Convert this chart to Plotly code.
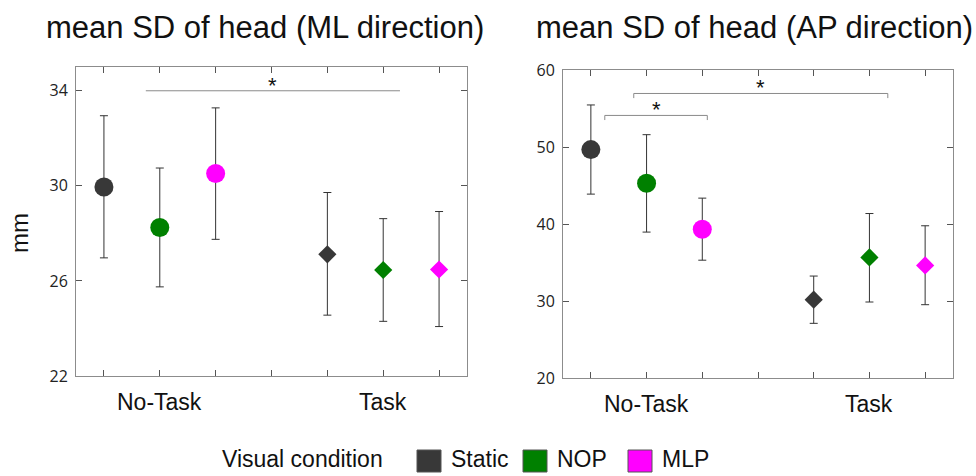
import plotly.graph_objects as go

# ---------------- data ----------------
conditions = ["Static", "NOP", "MLP"]
colors = ["#383838", "#008000", "#ff00ff"]
tasks = ["No-Task", "Task"]
x_pos_notask = [1, 2, 3]
x_pos_task = [5, 6, 7]

# ML direction (left panel)
ml_mean_notask = [29.95, 28.25, 30.52]
ml_hi_notask = [32.95, 30.75, 33.28]
ml_lo_notask = [26.97, 25.75, 27.75]
ml_mean_task = [27.12, 26.46, 26.48]
ml_hi_task = [29.72, 28.62, 28.92]
ml_lo_task = [24.56, 24.30, 24.08]

# AP direction (right panel)
ap_mean_notask = [49.66, 45.30, 39.33]
ap_hi_notask = [55.46, 51.60, 43.36]
ap_lo_notask = [43.88, 38.95, 35.30]
ap_mean_task = [30.17, 35.66, 34.62]
ap_hi_task = [33.24, 41.36, 39.77]
ap_lo_task = [27.10, 29.87, 29.52]

ml_yticks = [22, 26, 30, 34]
ap_yticks = [20, 30, 40, 50, 60]
ml_range = [22, 35]
ap_range = [20, 60]

# significance brackets: (x0, x1, y)
ml_sig = [(1.75, 6.3, 34.0)]
ap_sig = [(1.25, 3.09, 54.1), (1.77, 6.33, 56.95)]

FRAME = "#8c8c8c"
ERR = "#333333"

fig = go.Figure()


def add_panel(xa, ya, mean_nt, hi_nt, lo_nt, mean_t, hi_t, lo_t):
    for i, c in enumerate(conditions):
        for xs, m, hi, lo, sym, sz in [
            (x_pos_notask, mean_nt, hi_nt, lo_nt, "circle", 19),
            (x_pos_task, mean_t, hi_t, lo_t, "diamond", 14),
        ]:
            fig.add_trace(go.Scatter(
                x=[xs[i]], y=[m[i]], mode="markers", xaxis=xa, yaxis=ya,
                marker=dict(symbol=sym, size=sz, color=colors[i], line=dict(width=0)),
                error_y=dict(type="data", symmetric=False,
                             array=[hi[i] - m[i]], arrayminus=[m[i] - lo[i]],
                             color=ERR, thickness=1, width=4),
                showlegend=False, hoverinfo="skip",
            ))


add_panel("x", "y", ml_mean_notask, ml_hi_notask, ml_lo_notask,
          ml_mean_task, ml_hi_task, ml_lo_task)
add_panel("x2", "y2", ap_mean_notask, ap_hi_notask, ap_lo_notask,
          ap_mean_task, ap_hi_task, ap_lo_task)

tickfont = dict(family="Open Sans, Noto Sans, sans-serif", size=16, color="#222")
xcommon = dict(range=[0.5, 7.5], tickvals=[1, 2, 3, 4, 5, 6, 7], showticklabels=False,
               ticks="inside", ticklen=6, tickcolor="#555", tickwidth=1,
               showline=True, linecolor=FRAME, linewidth=1, mirror="ticks",
               showgrid=False, zeroline=False, fixedrange=True, automargin=False)
ycommon = dict(ticks="inside", ticklen=6, tickcolor="#555", tickwidth=1,
               showline=True, linecolor=FRAME, linewidth=1, mirror="ticks",
               showgrid=False, zeroline=False, tickfont=tickfont, ticklabelstandoff=4,
               automargin=False)

fig.update_layout(
    width=976, height=476,
    margin=dict(l=0, r=0, t=0, b=0, autoexpand=False),
    paper_bgcolor="white", plot_bgcolor="white",
    xaxis=dict(domain=[76 / 976, 467 / 976], anchor="y", **xcommon),
    yaxis=dict(domain=[1 - 376 / 476, 1 - 67 / 476], anchor="x", range=ml_range,
               tickvals=ml_yticks, **ycommon),
    xaxis2=dict(domain=[563 / 976, 953 / 976], anchor="y2", **xcommon),
    yaxis2=dict(domain=[1 - 378 / 476, 1 - 70 / 476], anchor="x2", range=ap_range,
                tickvals=ap_yticks, **ycommon),
    showlegend=False,
)

ann = []
shapes = []

# titles
title_font = dict(family="Liberation Sans, Arial, sans-serif", size=31, color="#111")
ann.append(dict(text="mean SD of head (ML direction)", x=265 / 976, y=1 - 27 / 476,
                xref="paper", yref="paper", showarrow=False, font=title_font,
                xanchor="center", yanchor="middle"))
ann.append(dict(text="mean SD of head (AP direction)", x=754 / 976, y=1 - 27 / 476,
                xref="paper", yref="paper", showarrow=False, font=title_font,
                xanchor="center", yanchor="middle"))

# y label
ann.append(dict(text="mm", x=19 / 976, y=1 - 233 / 476, xref="paper", yref="paper",
                showarrow=False, textangle=-90,
                font=dict(family="Liberation Sans, Arial, sans-serif", size=24, color="#111"),
                xanchor="center", yanchor="middle"))

# category labels
cat_font = dict(family="Liberation Sans, Arial, sans-serif", size=23, color="#111")
for xa, ypix in [("x", 402), ("x2", 404)]:
    for label, xv in zip(tasks, [2, 6]):
        ann.append(dict(text=label, x=xv, xref=xa, y=1 - ypix / 476, yref="paper",
                        showarrow=False, font=cat_font, xanchor="center", yanchor="middle"))

# significance brackets
star_font = dict(family="Liberation Sans, Arial, sans-serif", size=22, color="#111")
for xa, ya, sigs, tick in [("x", "y", ml_sig, 0.0), ("x2", "y2", ap_sig, 0.6)]:
    for x0, x1, yv in sigs:
        if tick > 0:
            path = (f"M {x0},{yv - tick} L {x0},{yv} L {x1},{yv} L {x1},{yv - tick}")
            shapes.append(dict(type="path", path=path, xref=xa, yref=ya,
                               line=dict(color="#8a8a8a", width=1)))
        else:
            shapes.append(dict(type="line", x0=x0, x1=x1, y0=yv, y1=yv, xref=xa, yref=ya,
                               line=dict(color="#8a8a8a", width=1)))
        ann.append(dict(text="*", x=(x0 + x1) / 2, y=yv, xref=xa, yref=ya,
                        showarrow=False, font=star_font, xanchor="center",
                        yanchor="bottom", yshift=-9))

# legend
leg_font = dict(family="Liberation Sans, Arial, sans-serif", size=23, color="#111")
leg_y = 1 - 459 / 476
ann.append(dict(text="Visual condition", x=220 / 976, y=leg_y, xref="paper",
                yref="paper", showarrow=False, font=leg_font, xanchor="left",
                yanchor="middle"))
leg_sq_x = [417, 523, 628]
for i, c in enumerate(conditions):
    x0 = leg_sq_x[i]
    shapes.append(dict(type="rect", xref="paper", yref="paper",
                       x0=x0 / 976, x1=(x0 + 24) / 976,
                       y0=1 - 472 / 476, y1=1 - 450 / 476,
                       fillcolor=colors[i], line=dict(color="#555", width=1)))
    ann.append(dict(text=c, x=(x0 + 32) / 976, y=leg_y, xref="paper",
                    yref="paper", showarrow=False, font=leg_font, xanchor="left",
                    yanchor="middle"))

fig.update_layout(annotations=ann, shapes=shapes)
fig.write_html("out.html", config={"displayModeBar": False},
               post_script="document.body.style.margin='0';document.body.style.overflow='hidden';")
